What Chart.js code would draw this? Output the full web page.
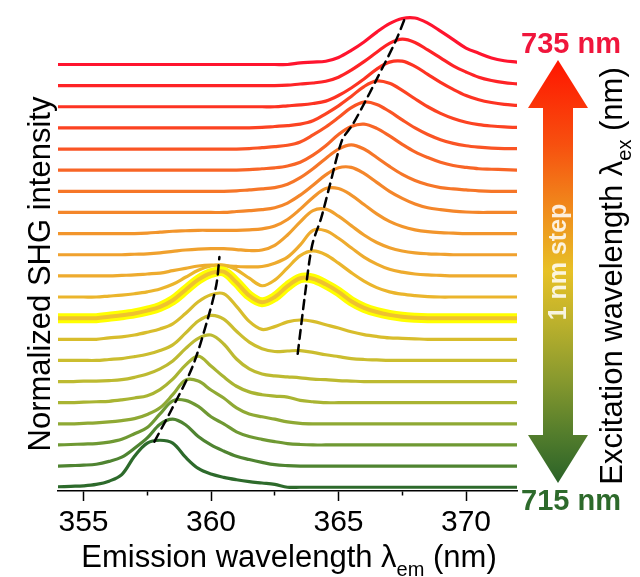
<!DOCTYPE html>
<html>
<head>
<meta charset="utf-8">
<script src="https://cdn.jsdelivr.net/npm/chart.js@4.4.1/dist/chart.umd.min.js"></script>
<style>
  html, body { margin: 0; padding: 0; background: #fff; }
  #wrap { width: 640px; height: 577px; }
</style>
</head>
<body>
<div id="wrap"><canvas id="shg" width="640" height="577"></canvas></div>
<script>
// Emission wavelength grid (nm), 0.5 nm step
var emission = [354, 354.5, 355, 355.5, 356, 356.5, 357, 357.5, 358, 358.5, 359, 359.5,
  360, 360.5, 361, 361.5, 362, 362.5, 363, 363.5, 364, 364.5, 365, 365.5, 366, 366.5,
  367, 367.5, 368, 368.5, 369, 369.5, 370, 370.5, 371, 371.5, 372];

// Excitation wavelengths (nm), one spectrum each
var excitation = [715, 716, 717, 718, 719, 720, 721, 722, 723, 724, 725,
  726, 727, 728, 729, 730, 731, 732, 733, 734, 735];

// Normalized SHG spectra (baseline = 0)
var shg715 = [0.01,0.02,0.03,0.06,0.13,0.27,0.66,0.94,1.0,0.94,0.64,0.40,0.28,0.21,0.16,0.12,0.09,0.06,0,0,0,0,0,0,0,0,0,0,0,0,0,0,0,0,0,0,0];
var shg716 = [0,0.01,0.02,0.04,0.10,0.19,0.38,0.60,0.89,1.0,0.88,0.63,0.45,0.32,0.21,0.14,0.08,0.03,0.01,0,0,0,0,0,0,0,0,0,0,0,0,0,0,0,0,0,0];
var shg717 = [0,0.01,0.02,0.03,0.06,0.12,0.24,0.37,0.66,0.94,0.95,0.82,0.60,0.45,0.28,0.18,0.12,0.07,0.03,0.01,0,0,0,0,0,0,0,0,0,0,0,0,0,0,0,0,0];
var shg718 = [0,0,0.01,0.02,0.04,0.07,0.11,0.20,0.34,0.62,0.93,0.91,0.72,0.55,0.34,0.21,0.15,0.10,0.04,0.01,0,0,0,0,0,0,0,0,0,0,0,0,0,0,0,0,0];
var shg719 = [0,0,0.01,0.02,0.03,0.06,0.10,0.15,0.28,0.50,0.80,0.99,0.78,0.55,0.35,0.23,0.17,0.14,0.12,0.05,0.02,0,0,0,0,0,0,0,0,0,0,0,0,0,0,0,0];
var shg720 = [0,0,0.01,0.01,0.02,0.04,0.09,0.16,0.27,0.44,0.70,0.92,0.99,0.80,0.48,0.27,0.16,0.12,0.10,0.08,0.05,0.04,0.02,0.01,0,0,0,0,0,0,0,0,0,0,0,0,0];
var shg721 = [0,0,0,0,0.02,0.04,0.08,0.13,0.21,0.33,0.58,0.84,0.96,0.88,0.62,0.39,0.25,0.19,0.20,0.21,0.17,0.12,0.08,0.04,0.02,0.01,0,0,0,0,0,0,0,0,0,0,0];
var shg722 = [0,0,0,0,0.03,0.05,0.09,0.15,0.22,0.33,0.55,0.80,0.95,0.97,0.70,0.38,0.21,0.27,0.37,0.41,0.38,0.31,0.24,0.16,0.10,0.06,0.03,0.02,0.01,0,0,0,0,0,0,0,0];
var shg723 = [0,0,0,0,0.03,0.06,0.10,0.16,0.24,0.38,0.60,0.82,0.96,0.99,0.76,0.48,0.34,0.45,0.68,0.85,0.84,0.72,0.56,0.36,0.22,0.13,0.07,0.03,0.01,0,0,0,0,0,0,0,0];
var shg724 = [0,0,0,0,0.02,0.04,0.07,0.11,0.17,0.27,0.42,0.57,0.66,0.68,0.58,0.40,0.24,0.36,0.62,0.88,0.98,0.90,0.72,0.52,0.34,0.20,0.11,0.06,0.03,0.01,0,0,0,0,0,0,0];
var shg725 = [0,0,0,0,0,0.01,0.02,0.04,0.06,0.11,0.16,0.21,0.23,0.22,0.20,0.19,0.20,0.27,0.40,0.66,0.97,0.96,0.80,0.60,0.40,0.25,0.14,0.08,0.04,0.02,0.01,0,0,0,0,0,0];
var shg726 = [0,0,0,0,0,0,0.01,0.02,0.04,0.07,0.10,0.12,0.13,0.13,0.11,0.09,0.10,0.20,0.42,0.70,0.94,0.97,0.82,0.62,0.42,0.26,0.15,0.08,0.04,0.02,0.01,0,0,0,0,0,0];
var shg727 = [0,0,0,0,0,0,0,0.01,0.03,0.05,0.06,0.07,0.07,0.07,0.07,0.08,0.10,0.16,0.30,0.52,0.77,0.96,0.96,0.82,0.62,0.42,0.26,0.15,0.08,0.04,0.02,0.01,0,0,0,0,0];
var shg728 = [0,0,0,0,0,0,0,0,0,0,0,0,0,0,0.02,0.04,0.06,0.10,0.20,0.37,0.58,0.80,0.95,0.96,0.83,0.64,0.45,0.30,0.18,0.10,0.06,0.03,0.01,0,0,0,0];
var shg729 = [0,0,0,0,0,0,0,0,0,0,0,0,0,0,0.01,0.03,0.05,0.08,0.15,0.29,0.48,0.70,0.90,0.99,0.90,0.72,0.53,0.36,0.23,0.14,0.08,0.05,0.03,0.01,0,0,0];
var shg730 = [0,0,0,0,0,0,0,0,0,0,0,0,0,0,0,0.01,0.03,0.05,0.09,0.17,0.32,0.52,0.76,0.93,0.98,0.89,0.73,0.55,0.39,0.27,0.17,0.10,0.06,0.03,0.02,0.01,0];
var shg731 = [0,0,0,0,0,0,0,0,0,0,0,0,0,0,0,0.01,0.03,0.05,0.08,0.15,0.30,0.47,0.67,0.88,1.0,0.95,0.80,0.62,0.45,0.31,0.20,0.12,0.07,0.04,0.02,0.01,0.01];
var shg732 = [0,0,0,0,0,0,0,0,0,0,0,0,0,0,0,0,0.01,0.03,0.05,0.08,0.15,0.30,0.47,0.67,0.88,1.0,0.95,0.80,0.62,0.45,0.31,0.20,0.12,0.07,0.04,0.02,0.01];
var shg733 = [0,0,0,0,0,0,0,0,0,0,0,0,0,0,0,0,0,0,0.02,0.04,0.07,0.12,0.24,0.40,0.59,0.80,0.95,0.97,0.86,0.69,0.52,0.37,0.24,0.15,0.09,0.05,0.03];
var shg734 = [0,0,0,0,0,0,0,0,0,0,0,0,0,0,0,0,0,0,0.01,0.035,0.056,0.094,0.18,0.33,0.51,0.71,0.90,0.99,0.92,0.76,0.59,0.42,0.29,0.18,0.11,0.064,0.036];
var shg735 = [0,0,0,0,0,0,0,0,0,0,0,0,0,0,0,0,0,0,0,0.035,0.05,0.07,0.15,0.30,0.48,0.69,0.87,0.98,0.99,0.88,0.71,0.53,0.35,0.24,0.14,0.08,0.05];

var spectra = [shg715, shg716, shg717, shg718, shg719, shg720, shg721, shg722, shg723, shg724,
  shg725, shg726, shg727, shg728, shg729, shg730, shg731, shg732, shg733, shg734, shg735];

// Line colours, 715 nm (green) -> 735 nm (red)
var lineColors = ["#2d6a2b", "#4f8431", "#6f9933", "#8fa934", "#a9b432", "#bdba31", "#cbbd2f",
  "#d8bd2c", "#efc22e", "#ebb52c", "#eeab2e", "#f0a12e", "#f2952c", "#f4862a", "#f67628",
  "#f86526", "#fa5424", "#fc4322", "#fd3322", "#fe2326", "#ff142e"];

// Dashed guides through the peak maxima (emission nm, stacked intensity)
var leftTraceEm = [357.78, 358.45, 359.27, 359.86, 360.21, 360.33];
var leftTraceY = [0.97, 1.65, 2.56, 3.56, 4.31, 4.90];
var rightTraceEm = [363.40, 363.70, 363.97, 364.32, 364.64, 365.14, 365.54, 365.93, 366.52, 367.26, 367.65];
var rightTraceY = [2.84, 4.16, 5.16, 5.73, 6.39, 7.39, 7.71, 8.09, 8.71, 9.52, 10.05];

var xTickValues = [355, 357.5, 360, 362.5, 365, 367.5, 370];
var curveStep = 0.45;       // vertical offset between spectra
var highlighted = 723;      // spectrum drawn with the yellow glow
var fontFamily = '"Liberation Sans", Arial, sans-serif';

function stacked(k) {
  return emission.map(function (x, i) {
    return { x: x, y: k * curveStep + spectra[k][i] };
  });
}

// Build datasets: the highlighted spectrum gets a wide yellow glow under it
var datasets = [];
excitation.forEach(function (ex, k) {
  if (ex === highlighted) {
    datasets.push({ data: stacked(k), borderColor: "#ffff00", borderWidth: 10, order: 3 });
  }
  datasets.push({
    data: stacked(k),
    borderColor: lineColors[k],
    borderWidth: ex === highlighted ? 4 : 3.2,
    order: ex === highlighted ? 2 : 4,
  });
});

function tracePoints(xs, ys) {
  return xs.map(function (x, i) { return { x: x, y: ys[i] }; });
}
[[leftTraceEm, leftTraceY], [rightTraceEm, rightTraceY]].forEach(function (t) {
  datasets.push({
    data: tracePoints(t[0], t[1]),
    borderColor: "#000",
    borderWidth: 2.5,
    borderDash: [9, 6],
    tension: 0.3,
    order: 1,
  });
});

// Text with a lowered subscript, centred on cx
function subscriptText(c, main, sub, tail, cx, baseY, size) {
  var big = size + "px " + fontFamily;
  var small = Math.round(size * 0.65) + "px " + fontFamily;
  c.font = big;
  var w1 = c.measureText(main).width;
  var w3 = c.measureText(tail).width;
  c.font = small;
  var w2 = c.measureText(sub).width;
  var x = cx - (w1 + w2 + w3) / 2;
  c.textAlign = "left";
  c.textBaseline = "alphabetic";
  c.font = big;
  c.fillText(main, x, baseY);
  x += w1;
  c.font = small;
  c.fillText(sub, x, baseY + size * 0.28);
  x += w2;
  c.font = big;
  c.fillText(tail, x, baseY);
}

// Axis titles, double arrow and range labels
var decorations = {
  id: "decorations",
  afterDraw: function (chart) {
    var c = chart.ctx;
    c.save();
    c.fillStyle = "#000";

    // x title
    subscriptText(c, "Emission wavelength \u03bb", "em", " (nm)", 289, 567, 31);

    // y title
    c.save();
    c.translate(50, 274);
    c.rotate(-Math.PI / 2);
    c.font = "31px " + fontFamily;
    c.textAlign = "center";
    c.textBaseline = "alphabetic";
    c.fillText("Normalized SHG intensity", 0, 0);
    c.restore();

    // right title
    c.save();
    c.translate(622, 276);
    c.rotate(-Math.PI / 2);
    subscriptText(c, "Excitation wavelength \u03bb", "ex", " (nm)", 0, 0, 31);
    c.restore();

    // gradient double arrow
    var ax = 558, top = 60, bot = 483, head = 48, hw = 30, sw = 15;
    var g = c.createLinearGradient(0, top, 0, bot);
    g.addColorStop(0, "#ff1500");
    g.addColorStop(0.2, "#f7500f");
    g.addColorStop(0.35, "#f08a1c");
    g.addColorStop(0.5, "#e7c126");
    g.addColorStop(0.62, "#bcb12c");
    g.addColorStop(0.75, "#8a9a2e");
    g.addColorStop(0.88, "#557e2c");
    g.addColorStop(1, "#2a6228");
    c.fillStyle = g;
    c.beginPath();
    c.moveTo(ax, top);
    c.lineTo(ax + hw, top + head);
    c.lineTo(ax + sw, top + head);
    c.lineTo(ax + sw, bot - head);
    c.lineTo(ax + hw, bot - head);
    c.lineTo(ax, bot);
    c.lineTo(ax - hw, bot - head);
    c.lineTo(ax - sw, bot - head);
    c.lineTo(ax - sw, top + head);
    c.lineTo(ax - hw, top + head);
    c.closePath();
    c.fill();

    // "1 nm step" inside the arrow
    c.save();
    c.translate(ax, 262);
    c.rotate(-Math.PI / 2);
    c.fillStyle = "rgba(255,255,255,0.85)";
    c.font = "bold 25px " + fontFamily;
    c.textAlign = "center";
    c.textBaseline = "middle";
    c.fillText("1 nm step", 0, 1);
    c.restore();

    // range labels
    c.font = "bold 29px " + fontFamily;
    c.textAlign = "center";
    c.textBaseline = "alphabetic";
    c.fillStyle = "#f0163c";
    c.fillText(excitation[excitation.length - 1] + " nm", 571, 53);
    c.fillStyle = "#2d6a2b";
    c.fillText(excitation[0] + " nm", 571, 510);

    c.restore();
  },
};

var ctx = document.getElementById("shg").getContext("2d");
new Chart(ctx, {
  type: "line",
  data: { datasets: datasets },
  options: {
    responsive: false,
    animation: false,
    events: [],
    layout: { padding: { left: 58, right: 123, top: 10, bottom: 0 } },
    elements: {
      point: { radius: 0 },
      line: { tension: 0.35, borderJoinStyle: "round", borderCapStyle: "round", fill: false },
    },
    plugins: { legend: { display: false }, tooltip: { enabled: false } },
    scales: {
      x: {
        type: "linear",
        min: 354,
        max: 372,
        afterBuildTicks: function (scale) {
          scale.ticks = xTickValues.map(function (v) { return { value: v }; });
        },
        afterFit: function (scale) { scale.height = 86; },
        ticks: {
          autoSkip: false,
          maxRotation: 0,
          padding: 4,
          color: "#000",
          font: { family: fontFamily, size: 30 },
          callback: function (v) { return v % 5 === 0 ? String(v) : ""; },
        },
        grid: {
          drawOnChartArea: false,
          drawTicks: true,
          tickLength: 10,
          tickWidth: 1.5,
          tickColor: "#000",
          tickBorderDash: function (c) {
            return c.tick && c.tick.value % 5 !== 0 ? [4, 30] : [];
          },
        },
        border: { display: true, color: "#000", width: 1.5 },
      },
      y: { display: false, min: -0.08, max: 10.16 },
    },
  },
  plugins: [decorations],
});
</script>
</body>
</html>
